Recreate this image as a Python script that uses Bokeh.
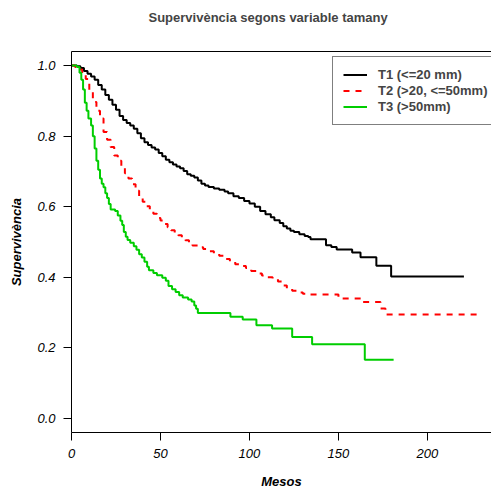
from bokeh.plotting import figure
from bokeh.models import (Range1d, FixedTicker, LinearAxis, Legend, LegendItem,
                          NumeralTickFormatter, Title)
from bokeh.embed import file_html
from bokeh.resources import INLINE

# ---- data (months, survival) ----
t1_time = [0, 3, 5, 7, 9, 11, 13, 15, 17, 19, 21, 23, 25, 27, 29, 31, 33, 35, 37, 39,
           41, 43, 45, 47, 49, 51, 53, 55, 57, 59, 61, 63, 65, 67, 69, 71, 73, 75, 77,
           80, 83, 86, 88, 91, 94, 97, 100, 103, 106, 109, 112, 114, 117, 119, 121,
           123, 125, 128, 131, 133, 134.3, 143, 146, 149, 157.7, 162.4, 171.3, 179.6, 220.5]
t1_surv = [1.0, 0.998, 0.993, 0.985, 0.977, 0.969, 0.960, 0.945, 0.932, 0.917, 0.903,
           0.889, 0.875, 0.857, 0.846, 0.837, 0.830, 0.821, 0.808, 0.794, 0.783, 0.775,
           0.768, 0.762, 0.752, 0.743, 0.733, 0.726, 0.720, 0.714, 0.709, 0.701, 0.692,
           0.688, 0.683, 0.674, 0.665, 0.660, 0.656, 0.652, 0.648, 0.643, 0.638, 0.630,
           0.625, 0.616, 0.609, 0.600, 0.588, 0.579, 0.570, 0.562, 0.554, 0.545, 0.538,
           0.532, 0.528, 0.522, 0.517, 0.514, 0.508, 0.491, 0.486, 0.479, 0.470, 0.457,
           0.433, 0.4025, 0.4025]

t2_time = [0, 2, 4, 6, 8, 10, 12, 14, 16, 18, 20, 22, 24, 26, 28, 30, 32, 34, 36, 38,
           40, 42, 44, 46, 48, 50, 52, 54, 56, 58, 60, 62, 64, 66, 68, 71, 74, 77, 80,
           83, 86, 89, 92, 95, 98, 101, 104, 107, 110, 113, 116, 119, 121, 124, 127,
           130, 133, 150, 163, 173.6, 176.4, 231]
t2_surv = [1.0, 0.996, 0.989, 0.978, 0.962, 0.930, 0.897, 0.872, 0.850, 0.812, 0.790,
           0.769, 0.745, 0.730, 0.711, 0.695, 0.680, 0.664, 0.645, 0.630, 0.614, 0.601,
           0.591, 0.580, 0.568, 0.561, 0.551, 0.542, 0.533, 0.526, 0.519, 0.512, 0.505,
           0.496, 0.490, 0.485, 0.480, 0.474, 0.467, 0.461, 0.452, 0.445, 0.437, 0.432,
           0.426, 0.418, 0.411, 0.405, 0.400, 0.395, 0.388, 0.377, 0.368, 0.362, 0.357,
           0.353, 0.351, 0.340, 0.330, 0.3115, 0.2945, 0.2945]

t3_time = [0, 3, 4.5, 5.5, 6.5, 7.5, 8.5, 9.5, 11, 12, 13, 14, 15, 16, 17, 18, 19, 20,
           21, 22, 24.5, 26, 27.5, 28.5, 29.4, 30.5, 31.5, 33, 35, 36.5, 38, 39.5, 41,
           42.5, 43.5, 46, 48, 51, 53, 54.5, 56.5, 58.5, 60.5, 62.5, 65.5, 67.5, 69,
           70, 71, 89.3, 96.2, 103.9, 112.7, 124, 135.2, 164.8, 181]
t3_surv = [1.0, 0.996, 0.980, 0.960, 0.932, 0.895, 0.872, 0.850, 0.830, 0.800, 0.765,
           0.730, 0.705, 0.680, 0.665, 0.655, 0.638, 0.625, 0.608, 0.592, 0.588, 0.575,
           0.560, 0.548, 0.528, 0.515, 0.506, 0.498, 0.488, 0.478, 0.465, 0.456, 0.444,
           0.430, 0.420, 0.412, 0.406, 0.399, 0.390, 0.375, 0.366, 0.358, 0.349, 0.343,
           0.337, 0.331, 0.320, 0.311, 0.299, 0.288, 0.280, 0.264, 0.255, 0.231, 0.210,
           0.1665, 0.1665]

series_labels = ["T1 (<=20 mm)", "T2 (>20, <=50mm)", "T3 (>50mm)"]
x_ticks = [0, 50, 100, 150, 200]
y_ticks = [0.0, 0.2, 0.4, 0.6, 0.8, 1.0]
title_text = "Supervivència segons variable tamany"

FONT = "Liberation Sans"

p = figure(width=491, height=491, output_backend="svg", toolbar_location=None,
           x_range=Range1d(0, 236), y_range=Range1d(-0.04, 1.04),
           min_border_left=71, min_border_right=0, min_border_top=51,
           min_border_bottom=59, x_axis_label="Mesos", y_axis_label="Supervivència")
p.background_fill_color = "white"
p.border_fill_color = "white"
p.outline_line_color = None
p.grid.visible = False

p.title = Title(text=title_text, align="left", offset=77,
                text_font=FONT, text_font_size="13px", text_font_style="bold",
                standoff=4)

for ax in (p.xaxis[0], p.yaxis[0]):
    ax.axis_line_color = "black"
    ax.axis_line_width = 1
    ax.major_tick_line_color = "black"
    ax.major_tick_in = 0
    ax.major_tick_out = 8
    ax.minor_tick_line_color = None
    ax.major_label_text_font = FONT
    ax.major_label_text_font_size = "13px"
    ax.major_label_text_font_style = "italic"
    ax.major_label_text_color = "black"
    ax.axis_label_text_font = FONT
    ax.axis_label_text_font_size = "13px"
    ax.axis_label_text_font_style = "bold italic"
    ax.axis_label_text_color = "black"

p.xaxis[0].ticker = FixedTicker(ticks=x_ticks)
p.yaxis[0].ticker = FixedTicker(ticks=y_ticks)
p.yaxis[0].formatter = NumeralTickFormatter(format="0.0")
p.yaxis[0].major_label_orientation = "horizontal"
p.xaxis[0].major_label_standoff = 8
p.xaxis[0].axis_label_standoff = 13
p.yaxis[0].major_label_standoff = 8
p.yaxis[0].axis_label_standoff = 10

# top border of the box (blank labels give the space between box and title)
top = LinearAxis(ticker=FixedTicker(ticks=[0]), axis_line_color="black",
                 major_tick_line_color=None, minor_tick_line_color=None,
                 major_tick_out=0, major_tick_in=0, major_label_standoff=7,
                 major_label_overrides={0: " "}, major_label_text_font_size="13px",
                 major_label_text_font=FONT)
p.add_layout(top, "above")

r1 = p.step(t1_time, t1_surv, mode="after", line_color="black", line_width=2)
r2 = p.step(t2_time, t2_surv, mode="after", line_color="#FF0000", line_width=2,
            line_dash="6 6")
r3 = p.step(t3_time, t3_surv, mode="after", line_color="#00CD00", line_width=2)

legend = Legend(items=[LegendItem(label=series_labels[0], renderers=[r1]),
                       LegendItem(label=series_labels[1], renderers=[r2]),
                       LegendItem(label=series_labels[2], renderers=[r3])],
                location=(261, 307), border_line_color="black", border_line_width=1,
                background_fill_color="white", background_fill_alpha=1,
                label_text_font=FONT, label_text_font_size="13px",
                label_text_font_style="bold", glyph_width=24, glyph_height=15,
                label_height=15, label_standoff=11, padding=10, spacing=1, margin=0)
p.add_layout(legend)

open("out.html", "w").write(file_html(p, INLINE))
